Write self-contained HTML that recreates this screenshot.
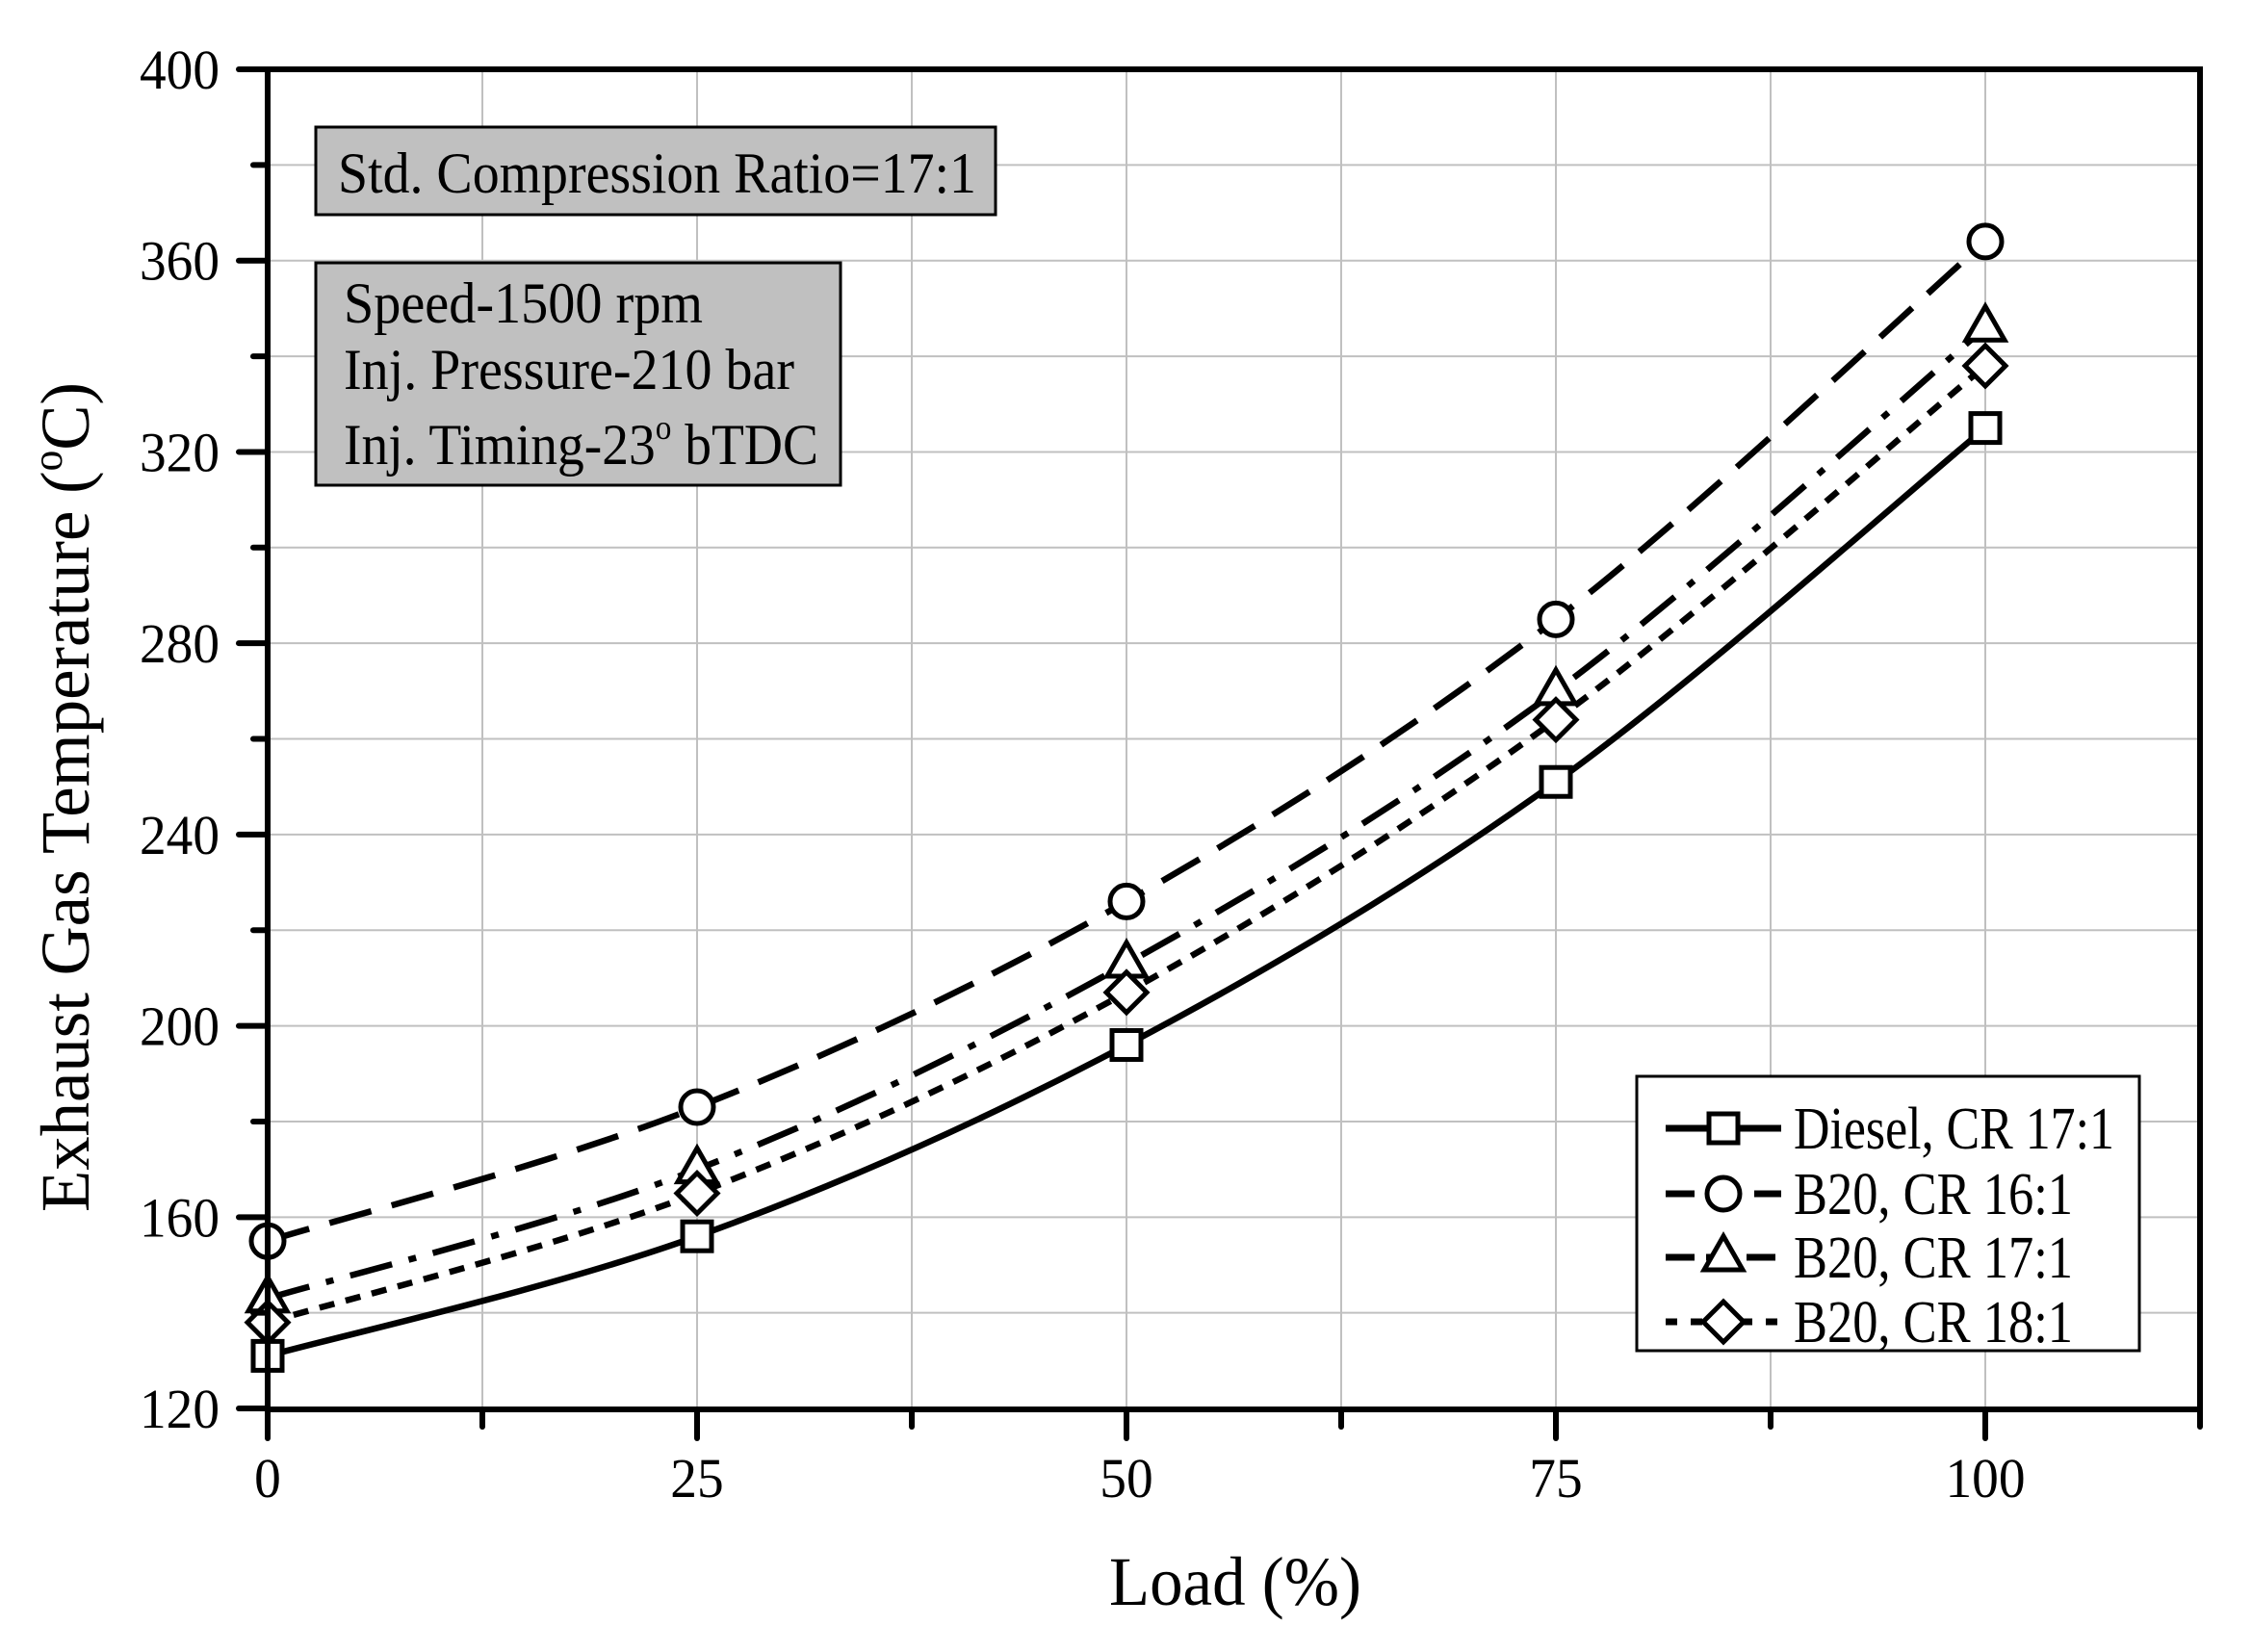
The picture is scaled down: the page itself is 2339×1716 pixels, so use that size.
<!DOCTYPE html>
<html><head><meta charset="utf-8"><style>html,body{margin:0;padding:0;background:#fff}svg{display:block}</style></head>
<body>
<svg id="s" width="2339" height="1716" viewBox="0 0 2339 1716" xmlns="http://www.w3.org/2000/svg" font-family="'Liberation Serif', serif">
<g id="grid" stroke="#c0c0c0" stroke-width="2"></g>
<rect x="328" y="132" width="706" height="91" fill="#c0c0c0" stroke="#000" stroke-width="3"/>
<text x="351" y="200" font-size="60" textLength="663" lengthAdjust="spacingAndGlyphs">Std. Compression Ratio=17:1</text>
<rect x="328" y="273" width="545" height="231" fill="#c0c0c0" stroke="#000" stroke-width="3"/>
<text x="357" y="335" font-size="60" textLength="373" lengthAdjust="spacingAndGlyphs">Speed-1500 rpm</text>
<text x="357" y="404" font-size="60" textLength="468" lengthAdjust="spacingAndGlyphs">Inj. Pressure-210 bar</text>
<text x="357" y="482" font-size="60" textLength="493" lengthAdjust="spacingAndGlyphs">Inj. Timing-23<tspan font-size="36" dy="-26">o</tspan><tspan dy="26"> bTDC</tspan></text>
<g id="series"></g>
<g id="axes"></g>
<rect x="1700" y="1118" width="522" height="285" fill="#fff" stroke="#000" stroke-width="3"/>
<g id="legend"></g>
<text x="1283" y="1667" font-size="72" text-anchor="middle" textLength="262" lengthAdjust="spacingAndGlyphs">Load (%)</text>
<text transform="translate(92,828) rotate(-90)" font-size="72" text-anchor="middle" textLength="862" lengthAdjust="spacingAndGlyphs">Exhaust Gas Temperature (<tspan font-size="44" dy="-28">o</tspan><tspan dy="28">C)</tspan></text>
</svg>
<script>
const NS="http://www.w3.org/2000/svg";
const X=v=>278+v*17.84, Y=v=>72+(400-v)*4.968;
function el(p,t,a,txt){const e=document.createElementNS(NS,t);for(const k in a)e.setAttribute(k,a[k]);if(txt!==undefined)e.textContent=txt;document.getElementById(p).appendChild(e);return e;}
for(let x=12.5;x<112.5;x+=12.5)el('grid','line',{x1:X(x),x2:X(x),y1:72,y2:1464});
for(let y=140;y<400;y+=20)el('grid','line',{x1:278,x2:2285,y1:Y(y),y2:Y(y)});
el('axes','rect',{x:278,y:72,width:2007,height:1392,fill:'none',stroke:'#000','stroke-width':6});
for(let y=120;y<=400;y+=20){const maj=(y%40==0);el('axes','line',{x1:278,x2:278-(maj?30:15),y1:Y(y),y2:Y(y),stroke:'#000','stroke-width':6,'stroke-linecap':'round'});
 if(maj)el('axes','text',{x:228,y:Y(y)+20,'font-size':58,'text-anchor':'end',textLength:83,lengthAdjust:'spacingAndGlyphs'},String(y));}
for(let x=0;x<=112.5;x+=12.5){const maj=(x%25==0);el('axes','line',{x1:X(x),x2:X(x),y1:1464,y2:1464+(maj?30:18),stroke:'#000','stroke-width':6,'stroke-linecap':'round'});
 if(maj){const s=String(x);el('axes','text',{x:X(x),y:1555,'font-size':58,'text-anchor':'middle',textLength:s.length*27.7,lengthAdjust:'spacingAndGlyphs'},s);}}
const xs=[0,25,50,75,100];
const S=[
 {d:[131,156,196,251,325],dash:'',m:'sq'},
 {d:[155,183,226,285,364],dash:'45 22',m:'ci'},
 {d:[143,170,213,270,346],dash:'45 18 8 18',m:'tr'},
 {d:[138,165,207,264,338],dash:'16 12',m:'di'}];
function path(pts){let d=`M${pts[0][0]},${pts[0][1]}`;for(let i=0;i<pts.length-1;i++){const p0=pts[i-1]||pts[i],p1=pts[i],p2=pts[i+1],p3=pts[i+2]||p2;
 const c1=[p1[0]+(p2[0]-p0[0])/6,p1[1]+(p2[1]-p0[1])/6],c2=[p2[0]-(p3[0]-p1[0])/6,p2[1]-(p3[1]-p1[1])/6];d+=`C${c1} ${c2} ${p2}`;}return d;}
function marker(g,m,x,y){const a={fill:'#fff',stroke:'#000','stroke-width':5};
 if(m=='sq')el(g,'rect',Object.assign({x:x-15,y:y-15,width:30,height:30},a));
 if(m=='ci')el(g,'circle',Object.assign({cx:x,cy:y,r:17},a));
 if(m=='tr')el(g,'polygon',Object.assign({points:`${x},${y-22} ${x+20},${y+13} ${x-20},${y+13}`},a));
 if(m=='di')el(g,'polygon',Object.assign({points:`${x},${y-21} ${x+21},${y} ${x},${y+21} ${x-21},${y}`},a));}
S.forEach(s=>{const pts=xs.map((x,i)=>[X(x),Y(s.d[i])]);el('series','path',{d:path(pts),fill:'none',stroke:'#000','stroke-width':6.5,'stroke-dasharray':s.dash});
 pts.forEach(p=>marker('series',s.m,p[0],p[1]));});
const labels=['Diesel, CR 17:1','B20, CR 16:1','B20, CR 17:1','B20, CR 18:1'];
const lw=[333,290,290,290];
const ldash=['','30 16','30 12','12 14'];
[1172,1240,1306,1373].forEach((y,i)=>{el('legend','line',{x1:1730,x2:1850,y1:y,y2:y,stroke:'#000','stroke-width':7,'stroke-dasharray':ldash[i]});
 marker('legend',S[i].m,1790,y);el('legend','text',{x:1863,y:y+21,'font-size':62,textLength:lw[i],lengthAdjust:'spacingAndGlyphs'},labels[i]);});
</script>
</body></html>
